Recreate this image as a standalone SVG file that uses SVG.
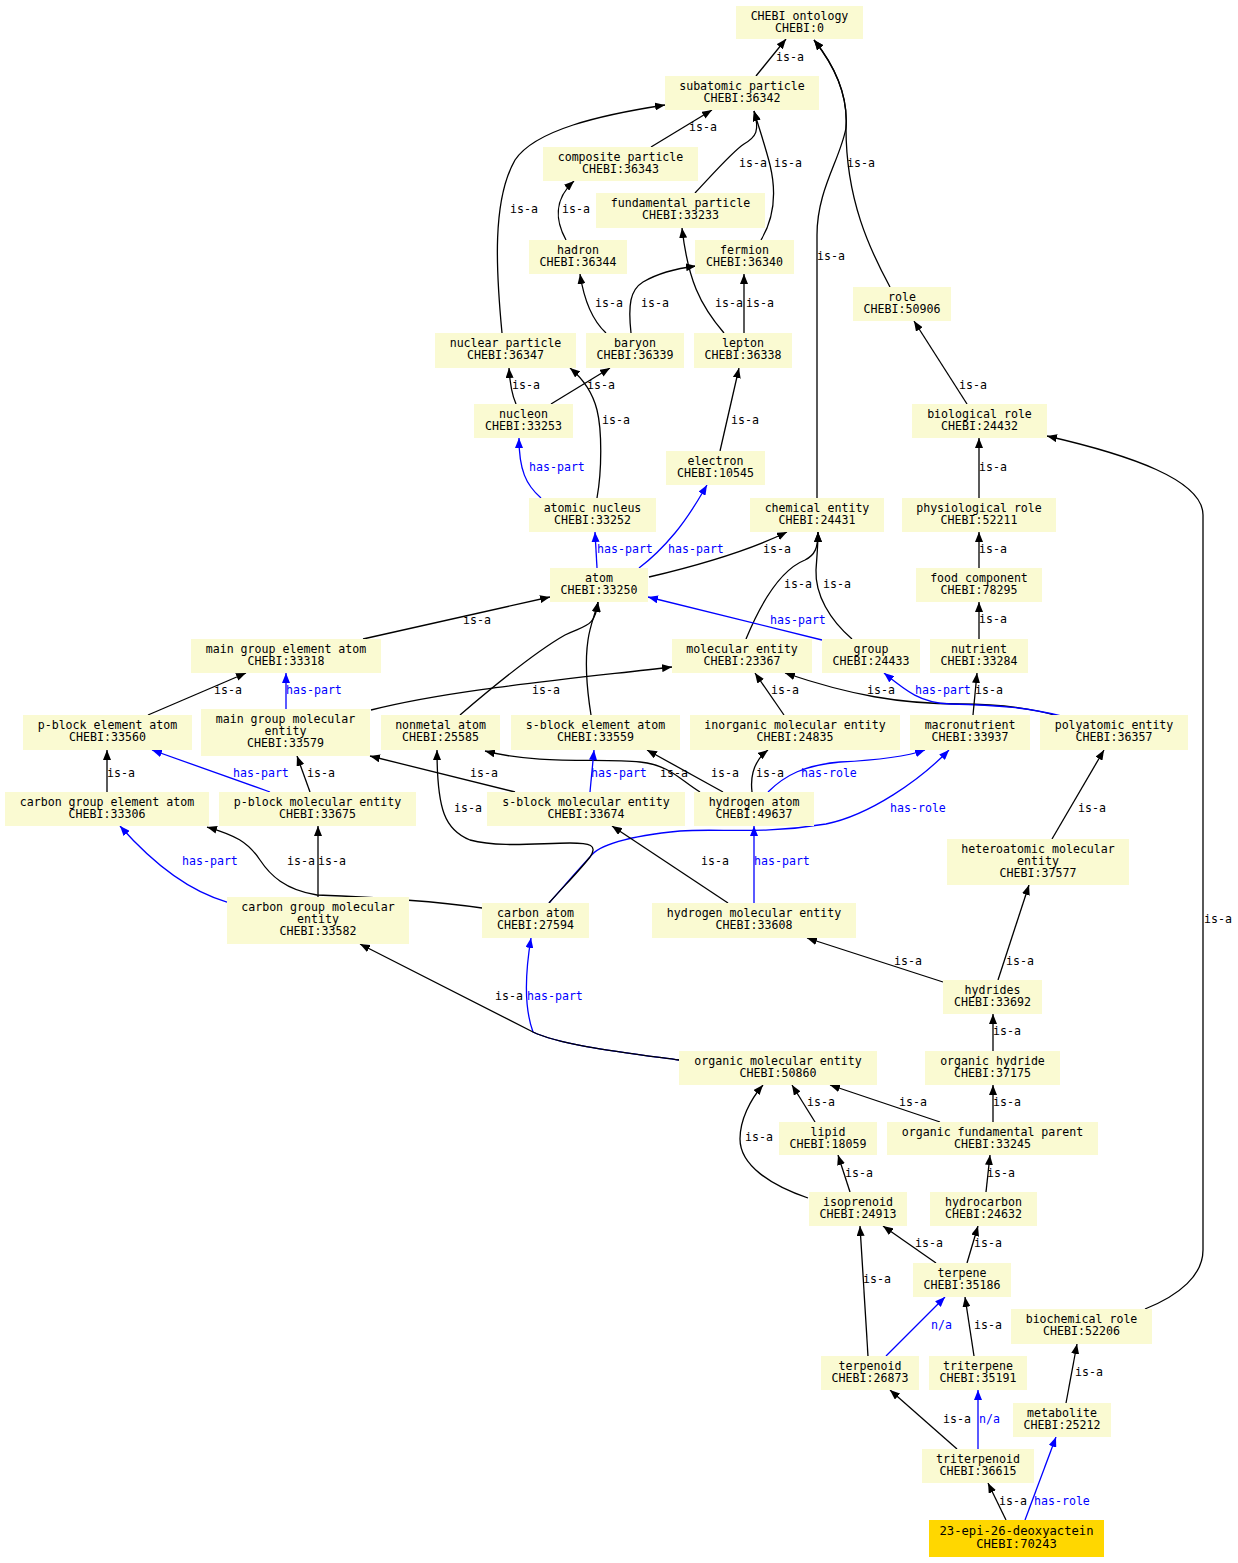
<svg xmlns="http://www.w3.org/2000/svg" width="1238" height="1563" viewBox="0 0 1238 1563">
<style>
.n rect{fill:#FAFAD2}
.n.g rect{fill:#FFD700}
text{font-family:"DejaVu Sans Mono","Liberation Mono",monospace;font-size:11.6px;fill:#000}
.n text{text-anchor:middle}
.n.g text{font-size:12.2px}
.e path{fill:none;stroke:#000;stroke-width:1.3}
.e path.b{stroke:#0000FF}
text.lb{fill:#0000FF}
</style>
<defs>
<marker id="ak" viewBox="0 0 10 8" refX="10" refY="4" markerWidth="10" markerHeight="8" markerUnits="userSpaceOnUse" orient="auto"><path d="M0,0 L10,4 L0,8 z" fill="#000"/></marker>
<marker id="ab" viewBox="0 0 10 8" refX="10" refY="4" markerWidth="10" markerHeight="8" markerUnits="userSpaceOnUse" orient="auto"><path d="M0,0 L10,4 L0,8 z" fill="#0000FF"/></marker>
</defs>
<rect width="1238" height="1563" fill="#fff"/>
<g class="e" id="edges">
<path class="b" marker-end="url(#ab)" d="M549,903 C565,885 578,870 590,857 C600,842 640,835 680,831 C720,828 760,835 826,824 C870,815 920,780 949,750"/>
<path class="b" marker-end="url(#ab)" d="M679,1060 C620,1052 560,1045 533,1032 C525,1010 524,980 531,938"/>
<path marker-end="url(#ak)" d="M756,76 L786,39"/>
<path marker-end="url(#ak)" d="M817,498 L817,235 C817,190 840,160 846,128 C848,100 838,70 814,40"/>
<path marker-end="url(#ak)" d="M890,287 C870,250 846,200 846,128 C848,100 838,70 814,40"/>
<path marker-end="url(#ak)" d="M651,147 L712,110"/>
<path marker-end="url(#ak)" d="M695,193 C712,175 733,151 744,144 C756,137 760,131 754,111"/>
<path marker-end="url(#ak)" d="M761,240 C776,215 776,190 770,165 C765,145 758,125 754,111"/>
<path marker-end="url(#ak)" d="M502,333 C496,270 492,200 515,160 C535,130 600,115 665,105"/>
<path marker-end="url(#ak)" d="M566,240 C556,222 553,200 574,181"/>
<path marker-end="url(#ak)" d="M606,333 C592,320 584,300 580,274"/>
<path marker-end="url(#ak)" d="M631,333 C628,305 630,290 643,282 C660,272 680,268 696,266"/>
<path marker-end="url(#ak)" d="M724,333 C700,305 688,280 682,228"/>
<path marker-end="url(#ak)" d="M744,333 L744,274"/>
<path marker-end="url(#ak)" d="M516,404 C512,395 510,385 509,368"/>
<path marker-end="url(#ak)" d="M551,404 L610,368"/>
<path marker-end="url(#ak)" d="M597,498 C602,470 602,430 597,410 C592,390 582,378 570,368"/>
<path class="b" marker-end="url(#ab)" d="M541,498 C526,485 519,470 519,438"/>
<path marker-end="url(#ak)" d="M720,451 L739,368"/>
<path class="b" marker-end="url(#ab)" d="M597,568 L595,532"/>
<path class="b" marker-end="url(#ab)" d="M639,568 C655,556 665,545 675,533 C690,515 700,497 707,485"/>
<path marker-end="url(#ak)" d="M649,577 C700,565 750,550 787,532"/>
<path marker-end="url(#ak)" d="M363,639 L550,597"/>
<path marker-end="url(#ak)" d="M460,715 C495,685 535,652 565,635 C585,625 595,628 598,602"/>
<path marker-end="url(#ak)" d="M591,715 C587,690 585,660 588,640 C590,625 595,615 598,602"/>
<path marker-end="url(#ak)" d="M746,639 C760,605 780,570 805,560 C815,555 818,548 818,532"/>
<path marker-end="url(#ak)" d="M852,639 C830,620 815,595 816,570 C817,555 818,545 818,532"/>
<path class="b" marker-end="url(#ab)" d="M822,640 L648,597"/>
<path marker-end="url(#ak)" d="M371,710 C450,690 560,680 672,667"/>
<path class="b" marker-end="url(#ab)" d="M286,709 L286,673"/>
<path marker-end="url(#ak)" d="M148,715 L246,673"/>
<path marker-end="url(#ak)" d="M784,715 L755,673"/>
<path marker-end="url(#ak)" d="M1058,716 C1030,708 1000,704 960,704 C900,704 850,695 785,673"/>
<path class="b" marker-end="url(#ab)" d="M1061,716 C1030,708 1000,705 950,704 C920,703 905,690 884,673"/>
<path marker-end="url(#ak)" d="M973,715 L977,673"/>
<path marker-end="url(#ak)" d="M979,639 L979,602"/>
<path marker-end="url(#ak)" d="M979,568 L979,532"/>
<path marker-end="url(#ak)" d="M979,498 L979,438"/>
<path marker-end="url(#ak)" d="M967,404 L914,321"/>
<path marker-end="url(#ak)" d="M1145,1309 C1180,1295 1203,1275 1203,1250 L1203,515 C1203,480 1130,455 1047,436"/>
<path marker-end="url(#ak)" d="M723,792 L647,750"/>
<path marker-end="url(#ak)" d="M700,792 C680,780 670,765 640,762 C600,758 540,765 485,751"/>
<path marker-end="url(#ak)" d="M752,792 C750,775 755,760 768,750"/>
<path class="b" marker-end="url(#ab)" d="M768,792 C785,775 805,765 840,762 C880,760 905,757 925,750"/>
<path marker-end="url(#ak)" d="M549,903 C565,885 580,870 590,857 C598,845 590,843 570,843 C540,843 500,848 470,840 C445,830 437,810 437,750"/>
<path class="b" marker-end="url(#ab)" d="M590,792 L594,750"/>
<path marker-end="url(#ak)" d="M515,792 L370,756"/>
<path marker-end="url(#ak)" d="M310,792 L297,756"/>
<path class="b" marker-end="url(#ab)" d="M270,792 L152,750"/>
<path marker-end="url(#ak)" d="M107,792 L107,750"/>
<path marker-end="url(#ak)" d="M318,897 L318,826"/>
<path marker-end="url(#ak)" d="M482,908 C440,902 370,897 317,895 C285,890 270,875 260,860 C248,842 235,835 207,827"/>
<path class="b" marker-end="url(#ab)" d="M227,902 C185,890 150,860 120,826"/>
<path marker-end="url(#ak)" d="M728,903 L612,826"/>
<path class="b" marker-end="url(#ab)" d="M754,903 L754,826"/>
<path marker-end="url(#ak)" d="M1052,839 L1104,750"/>
<path marker-end="url(#ak)" d="M998,980 L1029,885"/>
<path marker-end="url(#ak)" d="M943,982 L807,938"/>
<path marker-end="url(#ak)" d="M993,1051 L993,1014"/>
<path marker-end="url(#ak)" d="M679,1060 C620,1052 560,1045 533,1032 C500,1015 440,985 360,944"/>
<path marker-end="url(#ak)" d="M815,1122 L792,1085"/>
<path marker-end="url(#ak)" d="M940,1122 L830,1085"/>
<path marker-end="url(#ak)" d="M993,1122 L993,1085"/>
<path marker-end="url(#ak)" d="M808,1198 C770,1185 740,1165 740,1139 C740,1120 750,1100 763,1085"/>
<path marker-end="url(#ak)" d="M850,1192 L838,1155"/>
<path marker-end="url(#ak)" d="M986,1192 L990,1155"/>
<path marker-end="url(#ak)" d="M936,1263 L883,1226"/>
<path marker-end="url(#ak)" d="M967,1263 L978,1226"/>
<path marker-end="url(#ak)" d="M868,1356 L860,1226"/>
<path class="b" marker-end="url(#ab)" d="M886,1356 L945,1297"/>
<path marker-end="url(#ak)" d="M974,1356 L965,1297"/>
<path marker-end="url(#ak)" d="M957,1449 L890,1390"/>
<path class="b" marker-end="url(#ab)" d="M978,1449 L978,1390"/>
<path marker-end="url(#ak)" d="M1066,1403 L1077,1344"/>
<path marker-end="url(#ak)" d="M1006,1520 L988,1483"/>
<path class="b" marker-end="url(#ab)" d="M1025,1520 L1056,1437"/>
<g id="edge-labels">
<text x="776" y="61">is-a</text>
<text x="689" y="131">is-a</text>
<text x="739" y="167">is-a</text>
<text x="774" y="167">is-a</text>
<text x="847" y="167">is-a</text>
<text x="510" y="213">is-a</text>
<text x="562" y="213">is-a</text>
<text x="817" y="260">is-a</text>
<text x="595" y="307">is-a</text>
<text x="641" y="307">is-a</text>
<text x="715" y="307">is-a</text>
<text x="746" y="307">is-a</text>
<text x="512" y="389">is-a</text>
<text x="587" y="389">is-a</text>
<text x="959" y="389">is-a</text>
<text x="602" y="424">is-a</text>
<text x="731" y="424">is-a</text>
<text class="lb" x="529" y="471">has-part</text>
<text x="979" y="471">is-a</text>
<text class="lb" x="597" y="553">has-part</text>
<text class="lb" x="668" y="553">has-part</text>
<text x="763" y="553">is-a</text>
<text x="979" y="553">is-a</text>
<text x="784" y="588">is-a</text>
<text x="823" y="588">is-a</text>
<text x="463" y="624">is-a</text>
<text class="lb" x="770" y="624">has-part</text>
<text x="979" y="623">is-a</text>
<text x="214" y="694">is-a</text>
<text class="lb" x="286" y="694">has-part</text>
<text x="532" y="694">is-a</text>
<text x="771" y="694">is-a</text>
<text x="867" y="694">is-a</text>
<text class="lb" x="915" y="694">has-part</text>
<text x="975" y="694">is-a</text>
<text x="107" y="777">is-a</text>
<text class="lb" x="233" y="777">has-part</text>
<text x="307" y="777">is-a</text>
<text x="470" y="777">is-a</text>
<text class="lb" x="591" y="777">has-part</text>
<text x="660" y="777">is-a</text>
<text x="711" y="777">is-a</text>
<text x="756" y="777">is-a</text>
<text class="lb" x="801" y="777">has-role</text>
<text x="454" y="812">is-a</text>
<text class="lb" x="890" y="812">has-role</text>
<text x="1078" y="812">is-a</text>
<text class="lb" x="182" y="865">has-part</text>
<text x="287" y="865">is-a</text>
<text x="318" y="865">is-a</text>
<text x="701" y="865">is-a</text>
<text class="lb" x="754" y="865">has-part</text>
<text x="1204" y="923">is-a</text>
<text x="894" y="965">is-a</text>
<text x="1006" y="965">is-a</text>
<text x="495" y="1000">is-a</text>
<text class="lb" x="527" y="1000">has-part</text>
<text x="993" y="1035">is-a</text>
<text x="807" y="1106">is-a</text>
<text x="899" y="1106">is-a</text>
<text x="993" y="1106">is-a</text>
<text x="745" y="1141">is-a</text>
<text x="845" y="1177">is-a</text>
<text x="987" y="1177">is-a</text>
<text x="915" y="1247">is-a</text>
<text x="974" y="1247">is-a</text>
<text x="863" y="1283">is-a</text>
<text class="lb" x="931" y="1329">n/a</text>
<text x="974" y="1329">is-a</text>
<text x="1075" y="1376">is-a</text>
<text x="943" y="1423">is-a</text>
<text class="lb" x="979" y="1423">n/a</text>
<text x="999" y="1505">is-a</text>
<text class="lb" x="1034" y="1505">has-role</text>
</g>
</g>
<g class="n" id="n0"><rect x="736" y="6" width="127" height="33"/><text x="799.5" y="20">CHEBI ontology</text><text x="799.5" y="32">CHEBI:0</text></g>
<g class="n" id="n36342"><rect x="665" y="76" width="154" height="34"/><text x="742" y="90">subatomic particle</text><text x="742" y="102">CHEBI:36342</text></g>
<g class="n" id="n36343"><rect x="543" y="147" width="155" height="34"/><text x="620.5" y="161">composite particle</text><text x="620.5" y="173">CHEBI:36343</text></g>
<g class="n" id="n33233"><rect x="596" y="193" width="169" height="35"/><text x="680.5" y="207">fundamental particle</text><text x="680.5" y="219">CHEBI:33233</text></g>
<g class="n" id="n36344"><rect x="529" y="240" width="98" height="34"/><text x="578" y="254">hadron</text><text x="578" y="266">CHEBI:36344</text></g>
<g class="n" id="n36340"><rect x="695" y="240" width="99" height="34"/><text x="744.5" y="254">fermion</text><text x="744.5" y="266">CHEBI:36340</text></g>
<g class="n" id="n50906"><rect x="853" y="287" width="98" height="34"/><text x="902" y="301">role</text><text x="902" y="313">CHEBI:50906</text></g>
<g class="n" id="n36347"><rect x="435" y="333" width="141" height="35"/><text x="505.5" y="347">nuclear particle</text><text x="505.5" y="359">CHEBI:36347</text></g>
<g class="n" id="n36339"><rect x="586" y="333" width="98" height="35"/><text x="635" y="347">baryon</text><text x="635" y="359">CHEBI:36339</text></g>
<g class="n" id="n36338"><rect x="694" y="333" width="98" height="35"/><text x="743" y="347">lepton</text><text x="743" y="359">CHEBI:36338</text></g>
<g class="n" id="n33253"><rect x="474" y="404" width="99" height="34"/><text x="523.5" y="418">nucleon</text><text x="523.5" y="430">CHEBI:33253</text></g>
<g class="n" id="n24432"><rect x="912" y="404" width="135" height="34"/><text x="979.5" y="418">biological role</text><text x="979.5" y="430">CHEBI:24432</text></g>
<g class="n" id="n10545"><rect x="666" y="451" width="99" height="34"/><text x="715.5" y="465">electron</text><text x="715.5" y="477">CHEBI:10545</text></g>
<g class="n" id="n33252"><rect x="529" y="498" width="127" height="34"/><text x="592.5" y="512">atomic nucleus</text><text x="592.5" y="524">CHEBI:33252</text></g>
<g class="n" id="n24431"><rect x="750" y="498" width="134" height="34"/><text x="817" y="512">chemical entity</text><text x="817" y="524">CHEBI:24431</text></g>
<g class="n" id="n52211"><rect x="902" y="498" width="154" height="34"/><text x="979" y="512">physiological role</text><text x="979" y="524">CHEBI:52211</text></g>
<g class="n" id="n33250"><rect x="550" y="568" width="98" height="34"/><text x="599" y="582">atom</text><text x="599" y="594">CHEBI:33250</text></g>
<g class="n" id="n78295"><rect x="916" y="568" width="126" height="34"/><text x="979" y="582">food component</text><text x="979" y="594">CHEBI:78295</text></g>
<g class="n" id="n33318"><rect x="191" y="639" width="190" height="34"/><text x="286" y="653">main group element atom</text><text x="286" y="665">CHEBI:33318</text></g>
<g class="n" id="n23367"><rect x="672" y="639" width="140" height="34"/><text x="742" y="653">molecular entity</text><text x="742" y="665">CHEBI:23367</text></g>
<g class="n" id="n24433"><rect x="822" y="639" width="98" height="34"/><text x="871" y="653">group</text><text x="871" y="665">CHEBI:24433</text></g>
<g class="n" id="n33284"><rect x="930" y="639" width="98" height="34"/><text x="979" y="653">nutrient</text><text x="979" y="665">CHEBI:33284</text></g>
<g class="n" id="n33560"><rect x="23" y="715" width="169" height="35"/><text x="107.5" y="729">p-block element atom</text><text x="107.5" y="741">CHEBI:33560</text></g>
<g class="n" id="n33579"><rect x="201" y="709" width="169" height="47"/><text x="285.5" y="723">main group molecular</text><text x="285.5" y="735">entity</text><text x="285.5" y="747">CHEBI:33579</text></g>
<g class="n" id="n25585"><rect x="381" y="715" width="119" height="35"/><text x="440.5" y="729">nonmetal atom</text><text x="440.5" y="741">CHEBI:25585</text></g>
<g class="n" id="n33559"><rect x="511" y="715" width="169" height="35"/><text x="595.5" y="729">s-block element atom</text><text x="595.5" y="741">CHEBI:33559</text></g>
<g class="n" id="n24835"><rect x="690" y="715" width="210" height="35"/><text x="795" y="729">inorganic molecular entity</text><text x="795" y="741">CHEBI:24835</text></g>
<g class="n" id="n33937"><rect x="910" y="715" width="120" height="35"/><text x="970" y="729">macronutrient</text><text x="970" y="741">CHEBI:33937</text></g>
<g class="n" id="n36357"><rect x="1040" y="715" width="148" height="35"/><text x="1114" y="729">polyatomic entity</text><text x="1114" y="741">CHEBI:36357</text></g>
<g class="n" id="n33306"><rect x="5" y="792" width="204" height="34"/><text x="107" y="806">carbon group element atom</text><text x="107" y="818">CHEBI:33306</text></g>
<g class="n" id="n33675"><rect x="219" y="792" width="197" height="34"/><text x="317.5" y="806">p-block molecular entity</text><text x="317.5" y="818">CHEBI:33675</text></g>
<g class="n" id="n33674"><rect x="487" y="792" width="198" height="34"/><text x="586" y="806">s-block molecular entity</text><text x="586" y="818">CHEBI:33674</text></g>
<g class="n" id="n49637"><rect x="694" y="792" width="120" height="34"/><text x="754" y="806">hydrogen atom</text><text x="754" y="818">CHEBI:49637</text></g>
<g class="n" id="n37577"><rect x="947" y="839" width="182" height="46"/><text x="1038" y="853">heteroatomic molecular</text><text x="1038" y="865">entity</text><text x="1038" y="877">CHEBI:37577</text></g>
<g class="n" id="n33582"><rect x="227" y="897" width="182" height="47"/><text x="318" y="911">carbon group molecular</text><text x="318" y="923">entity</text><text x="318" y="935">CHEBI:33582</text></g>
<g class="n" id="n27594"><rect x="482" y="903" width="107" height="35"/><text x="535.5" y="917">carbon atom</text><text x="535.5" y="929">CHEBI:27594</text></g>
<g class="n" id="n33608"><rect x="652" y="903" width="204" height="35"/><text x="754" y="917">hydrogen molecular entity</text><text x="754" y="929">CHEBI:33608</text></g>
<g class="n" id="n33692"><rect x="943" y="980" width="99" height="34"/><text x="992.5" y="994">hydrides</text><text x="992.5" y="1006">CHEBI:33692</text></g>
<g class="n" id="n50860"><rect x="679" y="1051" width="198" height="34"/><text x="778" y="1065">organic molecular entity</text><text x="778" y="1077">CHEBI:50860</text></g>
<g class="n" id="n37175"><rect x="925" y="1051" width="135" height="34"/><text x="992.5" y="1065">organic hydride</text><text x="992.5" y="1077">CHEBI:37175</text></g>
<g class="n" id="n18059"><rect x="779" y="1122" width="98" height="33"/><text x="828" y="1136">lipid</text><text x="828" y="1148">CHEBI:18059</text></g>
<g class="n" id="n33245"><rect x="887" y="1122" width="211" height="33"/><text x="992.5" y="1136">organic fundamental parent</text><text x="992.5" y="1148">CHEBI:33245</text></g>
<g class="n" id="n24913"><rect x="809" y="1192" width="98" height="34"/><text x="858" y="1206">isoprenoid</text><text x="858" y="1218">CHEBI:24913</text></g>
<g class="n" id="n24632"><rect x="930" y="1192" width="107" height="34"/><text x="983.5" y="1206">hydrocarbon</text><text x="983.5" y="1218">CHEBI:24632</text></g>
<g class="n" id="n35186"><rect x="913" y="1263" width="98" height="34"/><text x="962" y="1277">terpene</text><text x="962" y="1289">CHEBI:35186</text></g>
<g class="n" id="n52206"><rect x="1011" y="1309" width="141" height="35"/><text x="1081.5" y="1323">biochemical role</text><text x="1081.5" y="1335">CHEBI:52206</text></g>
<g class="n" id="n26873"><rect x="821" y="1356" width="98" height="34"/><text x="870" y="1370">terpenoid</text><text x="870" y="1382">CHEBI:26873</text></g>
<g class="n" id="n35191"><rect x="929" y="1356" width="98" height="34"/><text x="978" y="1370">triterpene</text><text x="978" y="1382">CHEBI:35191</text></g>
<g class="n" id="n25212"><rect x="1013" y="1403" width="98" height="34"/><text x="1062" y="1417">metabolite</text><text x="1062" y="1429">CHEBI:25212</text></g>
<g class="n" id="n36615"><rect x="922" y="1449" width="112" height="34"/><text x="978" y="1463">triterpenoid</text><text x="978" y="1475">CHEBI:36615</text></g>
<g class="n g" id="n70243"><rect x="929" y="1520" width="175" height="37"/><text x="1016.5" y="1535">23-epi-26-deoxyactein</text><text x="1016.5" y="1548">CHEBI:70243</text></g>
</svg>
